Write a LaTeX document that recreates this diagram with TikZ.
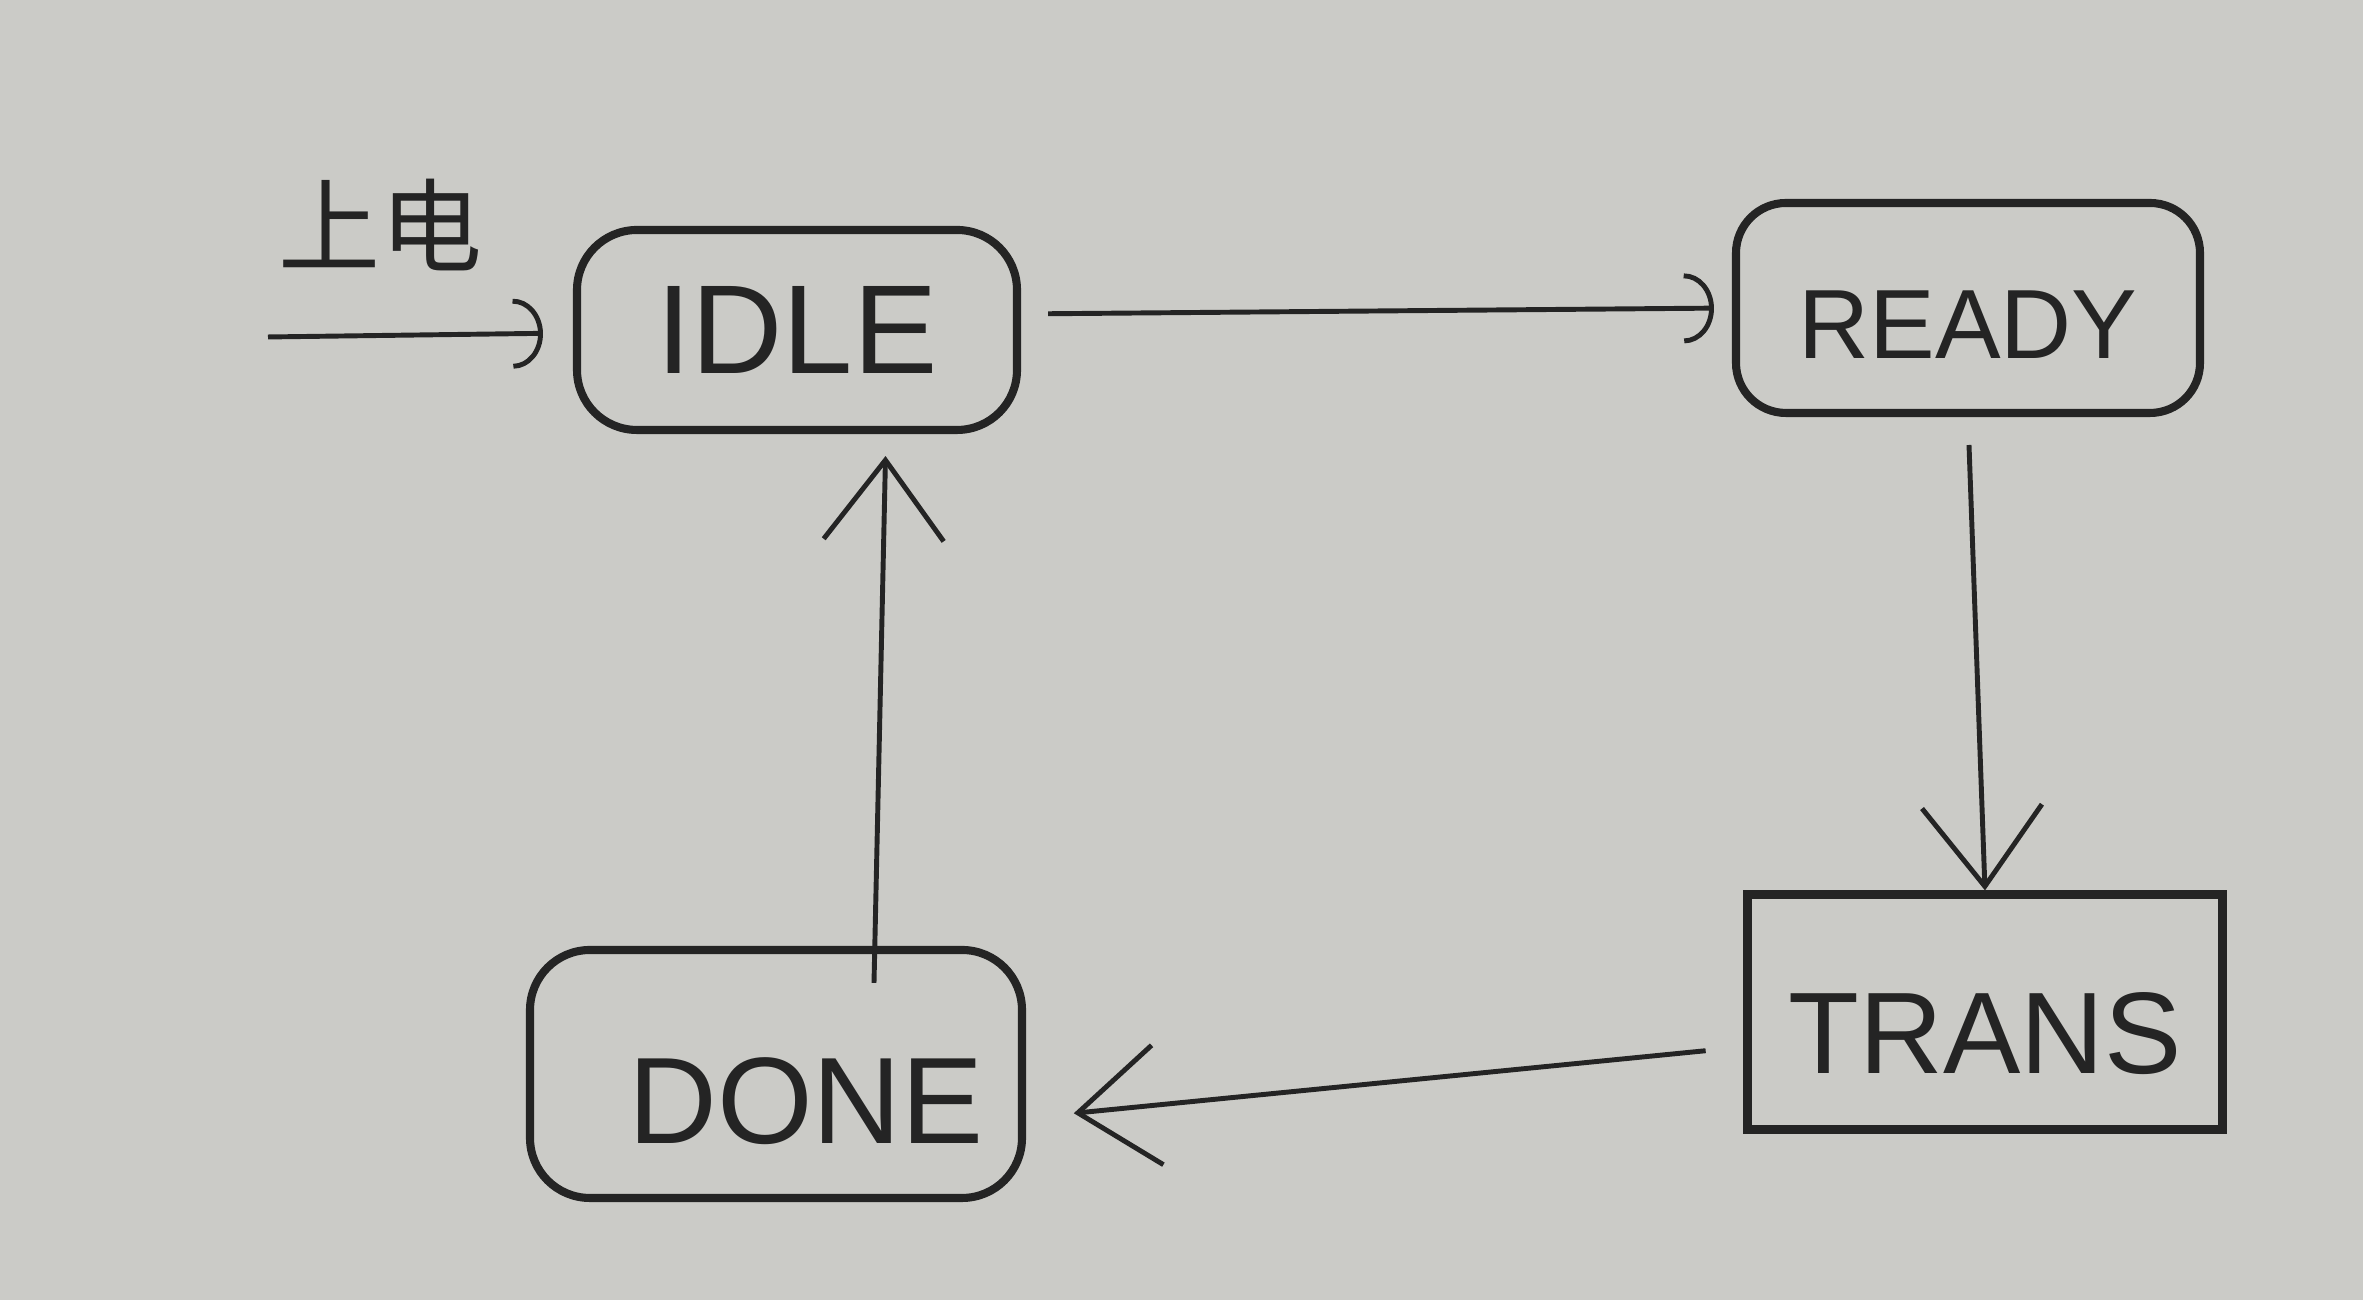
\documentclass[tikz,border=0pt]{standalone}
\usepackage{fontspec}
\setmainfont{Liberation Sans}
\newfontfamily\cjk{Noto Sans CJK SC}
\usetikzlibrary {arrows.meta, positioning}

\definecolor{paper}{RGB}{203,203,199}
\definecolor{ink}{RGB}{36,36,36}

\begin{document}
\begin{tikzpicture}[
    ->,
    >={Arc Barb[length=3mm, width=7mm]},
    color=ink,
    line width=1.4pt,
    statebox/.style={draw=ink, line width=2.3pt, rounded corners=6mm, text=ink,
        inner sep=0pt, text depth=0pt},
    bigtip/.style={-{Straight Barb[length=8mm, width=12mm]}},
]

    \path[use as bounding box, fill=paper] (0,0) rectangle (23.63,13);

    \node[statebox, font=\fontsize{36}{40}\selectfont,
        minimum width=4.4cm, minimum height=2cm] (IDLE) at (7.97, 9.70) {IDLE};
    \node[statebox, font=\fontsize{28}{32}\selectfont, text height=10.2mm, rounded corners=5mm,
        minimum width=4.64cm, minimum height=2.1cm] (READY) at (19.68, 9.92) {READY};
    \node[statebox, font=\fontsize{33}{37}\selectfont, text height=12.4mm, sharp corners,
        minimum width=4.75cm, minimum height=2.35cm] (TRANS) at (19.85, 2.88) {TRANS};
    \node[statebox, font=\fontsize{35}{39}\selectfont, text height=13.9mm,
        minimum width=4.92cm, minimum height=2.48cm] (DONE) at (7.76, 2.26) {\hspace{6mm}DONE};

    \coordinate (power) at (2.68, 9.63);

    \path
        (power) edge [shorten >=3mm]
            node [pos=0.37, above=5mm, font=\cjk\fontsize{29}{31}\selectfont] (powerlabel) {上电} (IDLE)
        ([yshift=1.6mm]IDLE.east) edge [shorten <=2.7mm, shorten >=1.8mm] (READY.west)
        (READY.south) edge [bigtip, shorten <=2.8mm] (TRANS.north)
        ([yshift=-3.5mm]TRANS.west) edge [bigtip, shorten <=3.8mm, shorten >=4.8mm] ([yshift=-4.4mm]DONE.east)
        ([xshift=9.8mm, yshift=-3.7mm]DONE.north) edge [bigtip, shorten >=2.2mm] ([xshift=8.9mm]IDLE.south)
    ;
\end{tikzpicture}
\end{document}
